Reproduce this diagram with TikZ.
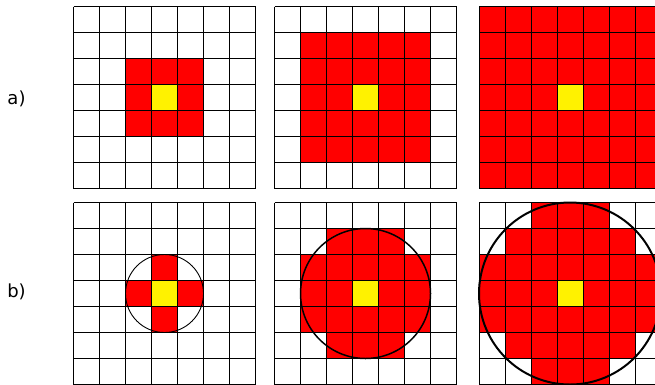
\documentclass[tikz,border=0pt]{standalone}
\usepackage{fontspec}
\setmainfont{DejaVu Sans}
\newcommand\drawcellgrid[2]{%
  \foreach \k in {0,...,7} {
    \draw[gridline] ({#1+26*\k},#2) -- ++(0,182);
    \draw[gridline] (#1,{#2+26*\k}) -- ++(182,0);
  }%
}
\newcommand\redcell[4]{% x0 y0 col row
  \fill[red] ({#1+26*#3},{#2+26*#4}) rectangle ++(26,26);%
}
\newcommand\yellowcell[2]{%
  \fill[yellow] ({#1+78},{#2+78}) rectangle ++(26,26);%
}
\begin{document}
\begin{tikzpicture}[x=1pt,y=-1pt,
  gridline/.style={line width=0.8pt, black},
  labeltext/.style={font=\fontsize{18}{20}\selectfont, inner sep=0pt}]
\useasboundingbox (0,0) rectangle (655,384);
% ---------- row a ----------
% grid 1
\foreach \r in {2,...,4} \foreach \c in {2,...,4} \redcell{73.5}{6.5}{\c}{\r};
\yellowcell{73.5}{6.5}
\drawcellgrid{73.5}{6.5}
% grid 2
\foreach \r in {1,...,5} \foreach \c in {1,...,5} \redcell{274.5}{6.5}{\c}{\r};
\yellowcell{274.5}{6.5}
\drawcellgrid{274.5}{6.5}
% grid 3
\foreach \r in {0,...,6} \foreach \c in {0,...,6} \redcell{479}{6.5}{\c}{\r};
\yellowcell{479}{6.5}
\drawcellgrid{479}{6.5}
% ---------- row b ----------
% grid 1
\foreach \c/\r in {3/2,2/3,3/3,4/3,3/4} \redcell{73.5}{202.5}{\c}{\r};
\yellowcell{73.5}{202.5}
\drawcellgrid{73.5}{202.5}
\draw[line width=0.9pt] (164.5,293.5) circle[radius=39];
% grid 2
\foreach \r/\a/\b in {1/2/4,2/1/5,3/1/5,4/1/5,5/2/4}
  \foreach \c in {\a,...,\b} \redcell{274.5}{202.5}{\c}{\r};
\yellowcell{274.5}{202.5}
\drawcellgrid{274.5}{202.5}
\draw[line width=1.5pt] (365.5,293.5) circle[radius=65];
% grid 3
\foreach \r/\a/\b in {0/2/4,1/1/5,2/0/6,3/0/6,4/0/6,5/1/5,6/2/4}
  \foreach \c in {\a,...,\b} \redcell{479}{202.5}{\c}{\r};
\yellowcell{479}{202.5}
\drawcellgrid{479}{202.5}
\draw[line width=2pt] (570,293.5) circle[radius=91];
% labels
\node[labeltext] (la) at (16.5,99) {a)};
\node[labeltext] (lb) at (16.5,292) {b)};
\end{tikzpicture}
\end{document}
